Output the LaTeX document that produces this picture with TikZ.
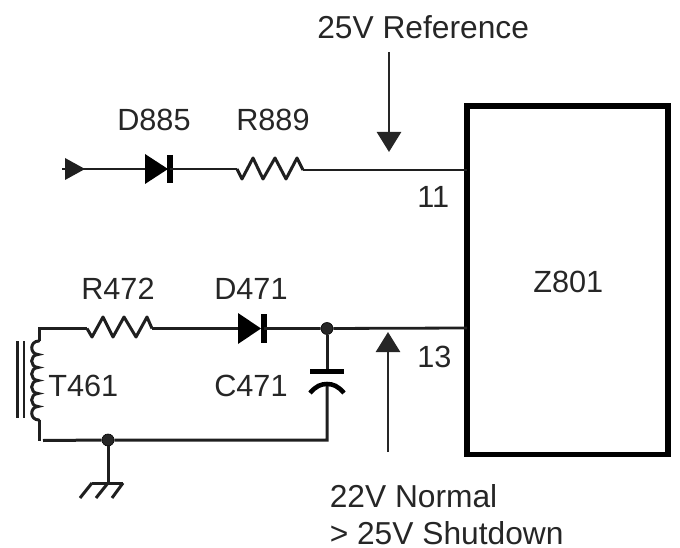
\documentclass[tikz,border=0pt]{standalone}
\usepackage{fontspec}
\setmainfont{Liberation Sans}
\usetikzlibrary{arrows.meta}
\tikzset{
  wire/.style={line width=2.25pt,draw=black!88,line join=miter},
  thin wire/.style={line width=2.1pt,draw=black!88},
  label text/.style={inner sep=0pt,anchor=base west,text=black!85,font=\fontsize{23}{28}\selectfont},
  note text/.style={label text,font=\fontsize{23.8}{28}\selectfont},
  solder/.style={circle,fill=black!85,draw=black,line width=.5pt,inner sep=0pt,minimum size=9pt},
  block arrow/.style={line width=2pt,draw=black!85,-{Triangle[length=15pt,width=18pt,fill=black!85]}},
}
\begin{document}
\begin{tikzpicture}[x=.75pt,y=-.75pt]
\useasboundingbox (0,0) rectangle (680,548);
% IC block
\node[draw=black,line width=4pt,minimum width=150.75pt,minimum height=261.4pt,inner sep=0pt,anchor=north west,outer sep=0pt] (z801) at (467,106) {};
\node[label text] (zlabel) at (533,292) {Z801};
\coordinate (pin11) at (467,170);
\coordinate (pin13) at (467,328);
% top rail
\coordinate (tipL) at (85,169);
\coordinate (d885a) at (145,169);
\coordinate (d885k) at (170,169);
\coordinate (r889a) at (237,169);
\coordinate (r889b) at (303,170);
\fill[black!88] (65,158) -- (85,169) -- (65,180) -- cycle;
\draw[thin wire] (62,169) -- (tipL) -- (d885a);
\fill[black] (145,154) -- (168,169) -- (145,184) -- cycle;
\draw[line width=4.5pt] (170,155) -- (170,183);
\draw[thin wire] (d885k) -- (r889a);
\draw[wire,line join=round] (r889a) -- (242,179) -- (253,158) -- (263,179) -- (275,158) -- (286,179) -- (297,158) -- (r889b);
\draw[thin wire] (r889b) -- (pin11);
% bottom rail
\coordinate (tl) at (39,328.5);
\coordinate (r472a) at (87,328.5);
\coordinate (r472b) at (152,328.5);
\coordinate (d471a) at (238,328.5);
\coordinate (d471k) at (264,328.5);
\node[solder] (capdot) at (327,328.5) {};
\node[solder] (gnddot) at (108,440) {};
\coordinate (coil1) at (39,341);
\coordinate (coil2) at (39,420);
\coordinate (bl) at (39,441);
\coordinate (br) at (327,440);
\coordinate (capA) at (327,371);
\coordinate (capB) at (327,384);
\draw[wire] (coil1) -- (tl) -- (r472a);
\draw[wire,line join=round] (r472a) -- (92,337) -- (103,317) -- (113,337) -- (124,317) -- (136,337) -- (147,317) -- (r472b);
\draw[thin wire] (r472b) -- (d471a);
\fill[black] (238,313) -- (261,328.5) -- (238,344) -- cycle;
\draw[line width=4.5pt] (264,314) -- (264,343);
\draw[thin wire] (d471k) -- (capdot) -- (pin13);
% transformer
\draw[wire,line cap=round] (coil1)
  .. controls (29.5,341) and (29.5,354) .. (38,354.5)
  .. controls (29.5,355) and (29.5,367) .. (38,367.5)
  .. controls (29.5,368) and (29.5,380) .. (38,380.5)
  .. controls (29.5,381) and (29.5,393) .. (38,393.5)
  .. controls (29.5,394) and (29.5,406) .. (38,406.5)
  .. controls (29.5,407) and (29.5,420) .. (coil2);
\draw[wire] (coil2) -- (bl);
\draw[thin wire] (17.3,341) -- (17.3,418);
\draw[thin wire] (24,341) -- (24,418);
% return rail and capacitor
\draw[wire] (43,440.5) -- (gnddot) -- (br) -- (capB);
\draw[wire] (capdot) -- (capA);
\draw[line width=3.8pt] (310,371.5) -- (344,371.5);
\draw[line width=3.4pt] (310,393) .. controls (316,386) and (321,384) .. (capB) .. controls (333,384) and (338,386) .. (344,393);
% ground
\coordinate (g) at (108,483);
\draw[wire] (gnddot) -- (g);
\draw[wire] (92,483) -- (123,483);
\draw[wire] (92,483) -- (80,498);
\draw[wire] (g) -- (96,498);
\draw[wire] (123,483) -- (112,498);
% arrows
\coordinate (a1s) at (389,52);
\coordinate (a1e) at (389,152);
\coordinate (a2s) at (388,452);
\coordinate (a2e) at (388,332);
\draw[block arrow] (a1s) -- (a1e);
\draw[block arrow] (a2s) -- (a2e);
% labels
\node[note text] (l25) at (317,39) {25V Reference};
\node[label text] (ld885) at (117,131) {D885};
\node[label text] (lr889) at (236,131) {R889};
\node[label text] (l11) at (417,208) {11};
\node[label text] (l13) at (417,367) {13};
\node[label text] (lr472) at (81,300) {R472};
\node[label text] (ld471) at (214,300) {D471};
\node[label text] (lt461) at (48,396) {T461};
\node[label text] (lc471) at (214,396) {C471};
\node[note text] (l22) at (329.5,507) {22V Normal};
\node[note text] (l25s) at (329.5,544) {> 25V Shutdown};
\end{tikzpicture}
\end{document}
